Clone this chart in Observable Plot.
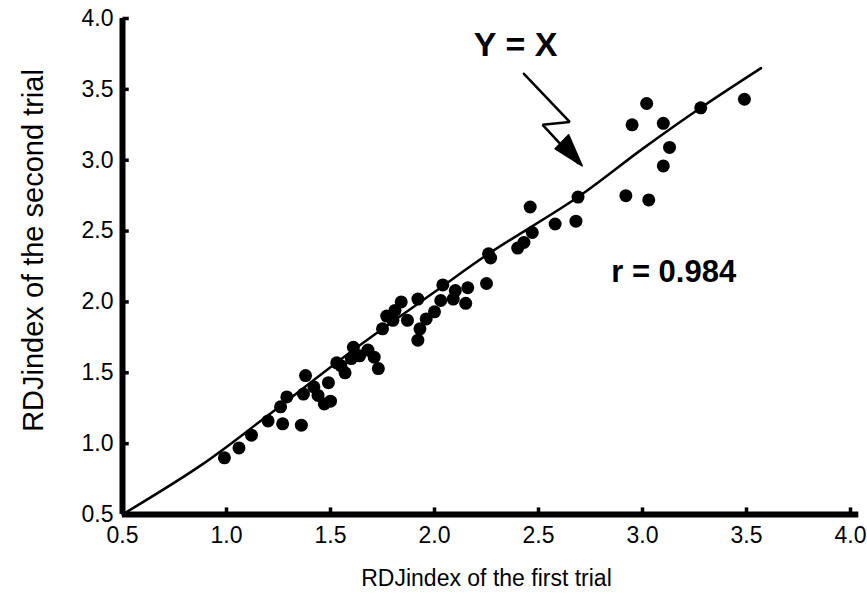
<!DOCTYPE html>
<html>
<head>
<meta charset="utf-8">
<script src="https://cdn.jsdelivr.net/npm/d3@7"></script>
<script src="https://cdn.jsdelivr.net/npm/@observablehq/plot@0.6"></script>
<style>
  body { margin: 0; background: #fff; }
  #chart svg { font-family: "Liberation Sans", Arial, Helvetica, sans-serif; }
</style>
</head>
<body>
<div id="chart"></div>
<script>
// RDJindex, first trial (x) vs second trial (y)
const firstTrial = [
  0.99, 1.06, 1.12, 1.20, 1.27, 1.36, 1.26, 1.29, 1.37, 1.42,
  1.47, 1.50, 1.38, 1.44, 1.49, 1.53, 1.57, 1.55, 1.61, 1.68,
  1.71, 1.73, 1.64, 1.60, 1.75, 1.77, 1.80, 1.81, 1.84, 1.92,
  1.87, 1.92, 1.93, 1.96, 2.00, 2.03, 2.04, 2.09, 2.10, 2.15,
  2.16, 2.25, 2.26, 2.27, 2.40, 2.43, 2.47, 2.46, 2.58, 2.68,
  2.69, 2.92, 3.03, 2.95, 3.02, 3.10, 3.13, 3.10, 3.28, 3.49
];
const secondTrial = [
  0.90, 0.97, 1.06, 1.16, 1.14, 1.13, 1.26, 1.33, 1.35, 1.40,
  1.28, 1.30, 1.48, 1.34, 1.43, 1.57, 1.50, 1.55, 1.68, 1.66,
  1.61, 1.53, 1.62, 1.60, 1.81, 1.90, 1.87, 1.94, 2.00, 2.02,
  1.87, 1.73, 1.81, 1.88, 1.93, 2.01, 2.12, 2.02, 2.08, 1.99,
  2.10, 2.13, 2.34, 2.31, 2.38, 2.42, 2.49, 2.67, 2.55, 2.57,
  2.74, 2.75, 2.72, 3.25, 3.40, 3.26, 3.09, 2.96, 3.37, 3.43
];

// hand-drawn Y = X reference line
const identityX = [0.50, 0.88, 1.20, 1.60, 2.00, 2.26, 2.69, 3.00, 3.28, 3.57];
const identityY = [0.50, 0.85, 1.20, 1.65, 2.07, 2.34, 2.74, 3.08, 3.37, 3.65];

// zig-zag pointer from the "Y = X" label
const pointerX = [2.43, 2.65, 2.52, 2.69];
const pointerY = [3.61, 3.27, 3.25, 2.98];
const pointerHeadX = [2.71, 2.58, 2.645, 2.71];
const pointerHeadY = [2.96, 3.08, 3.18, 2.96];

const tickValues = [0.5, 1.0, 1.5, 2.0, 2.5, 3.0, 3.5, 4.0];
const axisOrigin = 0.5;

const xTitle = "RDJindex of the first trial";
const yTitle = "RDJindex of the second trial";
const labelText = ["Y = X", "r = 0.984"];
const labelX = [2.39, 3.15];
const labelY = [3.81, 2.21];
const labelSize = [34, 31];

const points = firstTrial.map((x, i) => ({x, y: secondTrial[i]}));
const identity = identityX.map((x, i) => ({x, y: identityY[i]}));
const pointer = pointerX.map((x, i) => ({x, y: pointerY[i]}));
const pointerHead = pointerHeadX.map((x, i) => ({x, y: pointerHeadY[i]}));
const labels = labelText.map((t, i) => ({t, x: labelX[i], y: labelY[i], s: labelSize[i]}));
const fmt = d3.format(".1f");

const chart = Plot.plot({
  width: 867,
  height: 606,
  marginLeft: 122,
  marginRight: 17,
  marginTop: 18,
  marginBottom: 92,
  style: {background: "#fff", color: "#000", fontSize: "23px", fontFamily: "'Liberation Sans', Arial, sans-serif"},
  x: {domain: [0.5, 4.0]},
  y: {domain: [0.5, 4.0]},
  marks: [
    Plot.axisX({ticks: tickValues, tickFormat: fmt, tickSize: 0, tickPadding: 12, label: null, fontSize: 23}),
    Plot.axisY({ticks: tickValues, tickFormat: fmt, tickSize: 0, tickPadding: 9, label: null, fontSize: 23}),
    // inward tick marks
    Plot.link(tickValues.slice(1), {x1: d => d, x2: d => d, y1: axisOrigin, y2: axisOrigin + 0.05, strokeWidth: 3.5, stroke: "#000"}),
    Plot.link(tickValues.slice(1), {y1: d => d, y2: d => d, x1: axisOrigin, x2: axisOrigin + 0.03, strokeWidth: 3.5, stroke: "#000"}),
    // thick axis lines
    Plot.ruleX([axisOrigin], {strokeWidth: 6, stroke: "#000"}),
    Plot.ruleY([axisOrigin], {strokeWidth: 6, stroke: "#000", x1: 0.5, x2: 4.04}),
    // Y = X line
    Plot.line(identity, {x: "x", y: "y", stroke: "#000", strokeWidth: 2.5, curve: "catmull-rom"}),
    // data points
    Plot.dot(points, {x: "x", y: "y", r: 6.5, fill: "#000", stroke: "none"}),
    // pointer
    Plot.line(pointer, {x: "x", y: "y", stroke: "#000", strokeWidth: 2.5, strokeLinejoin: "miter"}),
    Plot.line(pointerHead, {x: "x", y: "y", stroke: "#000", strokeWidth: 1.5, fill: "#000"}),
    // annotations
    Plot.text(labels, {x: "x", y: "y", text: "t", fontSize: "s", fontWeight: "bold", fill: "#000", textAnchor: "middle"}),
    // axis titles
    Plot.text([xTitle], {text: d => d, frameAnchor: "bottom", textAnchor: "middle", lineAnchor: "middle", dy: 64, fontSize: 23, fill: "#000"}),
    Plot.text([yTitle], {text: d => d, frameAnchor: "left", textAnchor: "middle", lineAnchor: "middle", rotate: -90, dx: -89, dy: -16, fontSize: 29, fill: "#000"})
  ]
});
document.getElementById("chart").appendChild(chart);
</script>
</body>
</html>
